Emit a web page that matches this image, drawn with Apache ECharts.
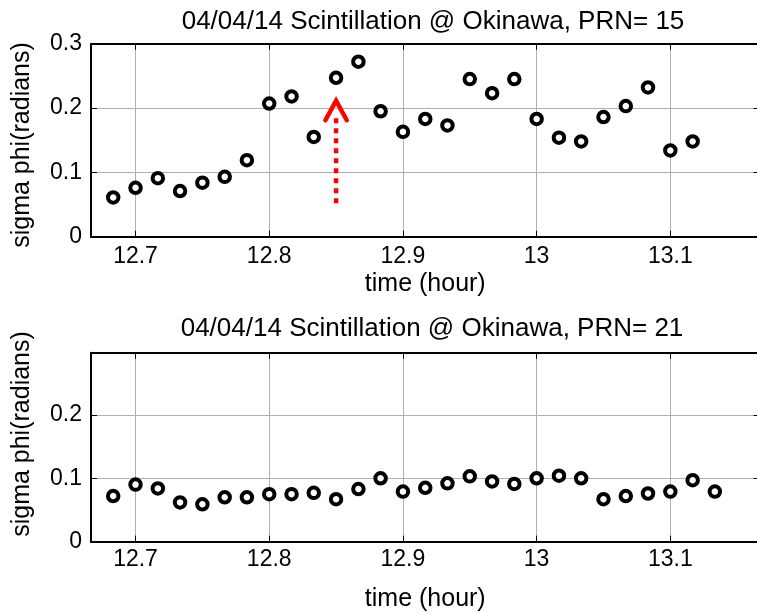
<!DOCTYPE html>
<html>
<head>
<meta charset="utf-8">
<script src="https://cdn.jsdelivr.net/npm/echarts@6/dist/echarts.min.js"></script>
<style>html,body{margin:0;padding:0;background:#fff}#c{width:757px;height:613px}</style>
</head>
<body>
<div id="c"></div>
<script>
// ---- data ----
const titleTop = '04/04/14 Scintillation @ Okinawa, PRN= 15';
const titleBottom = '04/04/14 Scintillation @ Okinawa, PRN= 21';
const xName = 'time (hour)';
const yName = 'sigma phi(radians)';

const timePRN15 = [12.6833, 12.7, 12.7167, 12.7333, 12.75, 12.7667, 12.7833, 12.8, 12.8167, 12.8333,
  12.85, 12.8667, 12.8833, 12.9, 12.9167, 12.9333, 12.95, 12.9667, 12.9833, 13.0,
  13.0167, 13.0333, 13.05, 13.0667, 13.0833, 13.1, 13.1167];
const sigmaPRN15 = [0.061, 0.076, 0.091, 0.071, 0.084, 0.093, 0.119, 0.207, 0.218, 0.155,
  0.247, 0.272, 0.195, 0.163, 0.183, 0.173, 0.245, 0.223, 0.245, 0.183,
  0.154, 0.148, 0.186, 0.203, 0.232, 0.134, 0.148];

const timePRN21 = [12.6833, 12.7, 12.7167, 12.7333, 12.75, 12.7667, 12.7833, 12.8, 12.8167, 12.8333,
  12.85, 12.8667, 12.8833, 12.9, 12.9167, 12.9333, 12.95, 12.9667, 12.9833, 13.0,
  13.0167, 13.0333, 13.05, 13.0667, 13.0833, 13.1, 13.1167, 13.1333];
const sigmaPRN21 = [0.072, 0.090, 0.084, 0.062, 0.059, 0.070, 0.070, 0.075, 0.075, 0.077,
  0.067, 0.083, 0.100, 0.079, 0.085, 0.092, 0.103, 0.095, 0.091, 0.100,
  0.104, 0.100, 0.067, 0.072, 0.076, 0.079, 0.097, 0.079];

const xTicks = [12.7, 12.8, 12.9, 13.0, 13.1];
const yTicksTop = [0, 0.1, 0.2, 0.3];
const yTicksBottom = [0, 0.1, 0.2];
const xMin = 12.6667, xMax = 13.1667;
const yMaxTop = 0.3, yMaxBottom = 0.298;

// red arrow annotation (top panel)
const arrowShaftX = [12.85, 12.85];
const arrowShaftY = [0.052, 0.186];
const arrowHeadX = [12.842, 12.85, 12.858];
const arrowHeadY = [0.181, 0.2115, 0.181];

// ---- chart ----
const FONT = 'Liberation Sans, Arial, sans-serif';
const zip = (a, b) => a.map((v, i) => [v, b[i]]);

function xAxes(gridIndex, nameGap, labelMargin) {
  return [{
    type: 'value', gridIndex, min: xMin, max: xMax, position: 'bottom',
    name: xName, nameLocation: 'middle', nameGap,
    nameTextStyle: { fontFamily: FONT, fontSize: 25, color: '#000' },
    axisLine: { show: true, onZero: false, lineStyle: { color: '#000', width: 2 } },
    axisTick: { show: true, inside: true, length: 6, customValues: xTicks, lineStyle: { color: '#000', width: 1 } },
    axisLabel: { customValues: xTicks, margin: labelMargin, fontFamily: FONT, fontSize: 23, color: '#000' },
    splitLine: { show: true, lineStyle: { color: '#b0b0b0', width: 1 } }
  }, {
    type: 'value', gridIndex, min: xMin, max: xMax, position: 'top',
    axisLine: { show: true, onZero: false, lineStyle: { color: '#000', width: 2 } },
    axisTick: { show: true, inside: true, length: 6, customValues: xTicks, lineStyle: { color: '#000', width: 1 } },
    axisLabel: { show: false },
    splitLine: { show: false }
  }];
}
function yAxes(gridIndex, yMax, ticks) {
  return [{
    type: 'value', gridIndex, min: 0, max: yMax, position: 'left',
    axisLine: { show: true, onZero: false, lineStyle: { color: '#000', width: 2 } },
    axisTick: { show: true, inside: true, length: 6, customValues: ticks, lineStyle: { color: '#000', width: 1 } },
    axisLabel: { customValues: ticks, margin: 9, fontFamily: FONT, fontSize: 23, color: '#000' },
    splitLine: { show: true, lineStyle: { color: '#b0b0b0', width: 1 } }
  }, {
    type: 'value', gridIndex, min: 0, max: yMax, position: 'right',
    axisLine: { show: false },
    axisTick: { show: true, inside: true, length: 6, customValues: ticks, lineStyle: { color: '#000', width: 1 } },
    axisLabel: { show: false },
    splitLine: { show: false }
  }];
}

const markerStyle = { color: '#fff', borderColor: '#000', borderWidth: 4, opacity: 1 };

const option = {
  animation: false,
  backgroundColor: '#fff',
  title: [
    { text: titleTop, left: 428, top: 4, textAlign: 'center',
      textStyle: { fontFamily: FONT, fontSize: 26, fontWeight: 'normal', color: '#000' } },
    { text: titleBottom, left: 427, top: 311, textAlign: 'center',
      textStyle: { fontFamily: FONT, fontSize: 26, fontWeight: 'normal', color: '#000' } }
  ],
  grid: [
    { left: 91, right: -2.5, top: 43.7, height: 193, containLabel: false, outerBoundsMode: 'none' },
    { left: 91, right: -2.5, top: 352.7, height: 189, containLabel: false, outerBoundsMode: 'none' }
  ],
  xAxis: [...xAxes(0, 35, 8), ...xAxes(1, 45, 6)],
  yAxis: [...yAxes(0, yMaxTop, yTicksTop), ...yAxes(1, yMaxBottom, yTicksBottom)],
  graphic: [
    { type: 'text', x: 22.5, y: 145, rotation: Math.PI / 2,
      style: { text: yName, font: '25px ' + FONT, fill: '#000', align: 'center', verticalAlign: 'middle' } },
    { type: 'text', x: 22.5, y: 434, rotation: Math.PI / 2,
      style: { text: yName, font: '25px ' + FONT, fill: '#000', align: 'center', verticalAlign: 'middle' } }
  ],
  series: [
    { type: 'line', xAxisIndex: 0, yAxisIndex: 0, data: zip(arrowShaftX, arrowShaftY), symbol: 'none',
      lineStyle: { color: '#ff0000', width: 4.5, type: [5, 5], cap: 'butt' }, z: 3 },
    { type: 'line', xAxisIndex: 0, yAxisIndex: 0, data: zip(arrowHeadX, arrowHeadY), symbol: 'none',
      lineStyle: { color: '#ff0000', width: 4.5, join: 'miter', cap: 'round' }, z: 3 },
    { type: 'scatter', xAxisIndex: 0, yAxisIndex: 0, data: zip(timePRN15, sigmaPRN15),
      symbol: 'circle', symbolSize: 10.5, itemStyle: markerStyle, z: 4 },
    { type: 'scatter', xAxisIndex: 2, yAxisIndex: 2, data: zip(timePRN21, sigmaPRN21),
      symbol: 'circle', symbolSize: 10.5, itemStyle: markerStyle, z: 4 }
  ]
};

const chart = echarts.init(document.getElementById('c'), null, { renderer: 'canvas' });
chart.setOption(option);
</script>
</body>
</html>
